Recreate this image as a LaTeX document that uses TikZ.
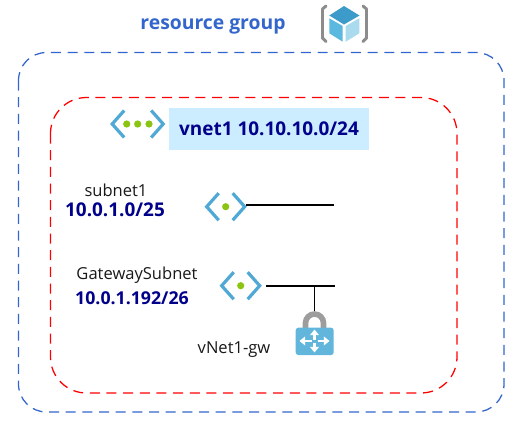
\documentclass[tikz,border=0pt]{standalone}
\usepackage{fontspec}
\setmainfont{Open Sans}
\usetikzlibrary{arrows.meta}
\definecolor{rgblue}{HTML}{3366CC}
\definecolor{navytext}{HTML}{00008B}
\definecolor{iconblue}{HTML}{50A8D4}
\definecolor{icongreen}{HTML}{8CC414}
\definecolor{bannerblue}{HTML}{CCECFF}
\definecolor{cubetop}{HTML}{3C9BC9}
\definecolor{cubeleft}{HTML}{5BB8DE}
\definecolor{cuberight}{HTML}{A9DAEE}
\definecolor{bracketgray}{HTML}{8C8C8C}
\definecolor{lockblue}{HTML}{62B6DC}
\tikzset{
  x=0.75pt,y=-0.75pt,
  chevron/.style={draw=iconblue,line width=2.4pt,line join=miter,line cap=butt},
  dotmark/.style={circle,fill=icongreen,inner sep=0pt,minimum size=5.4pt},
  plainlabel/.style={inner sep=0pt,font=\fontsize{12.4pt}{14pt}\selectfont,text=black!90},
  boldlabel/.style={inner sep=0pt,font=\fontsize{14.2pt}{16pt}\selectfont\bfseries,text=navytext},
  wire/.style={draw=black,line width=0.8pt},
  zone/.style={dash pattern=on 7.5pt off 5pt,line width=0.95pt},
  bracket/.style={line width=2.2pt,draw=bracketgray,line join=round,line cap=round},
  lockarrow/.style={draw=white,line width=1.6pt,-{Triangle[length=4.2pt,width=6.5pt]}},
}
\newcommand{\netchevrons}[3]{%
  \draw[chevron] ({#1-#3+13},{#2-13.5}) -- ({#1-#3+1},#2) -- ({#1-#3+13},{#2+13.5});
  \draw[chevron] ({#1+#3-13},{#2-13.5}) -- ({#1+#3-1},#2) -- ({#1+#3-13},{#2+13.5});
}
\begin{document}
\begin{tikzpicture}
\useasboundingbox (0,0) rectangle (514,422);
\fill[white] (0,0) rectangle (514,422);
% zones
\draw[zone,draw=rgblue,rounded corners=21pt] (18.5,52.5) rectangle (504,412);
\draw[zone,draw=red,rounded corners=27pt] (50.5,97.5) rectangle (457,393);
% title
\node[inner sep=0pt,font=\fontsize{14.5pt}{16pt}\selectfont\bfseries,text=rgblue] (title) at (213,26.5) {resource group};
% cube icon
\draw[bracket] (326,6) -- (322.5,9) -- (322.5,38) -- (326,41.5);
\draw[bracket] (363,6) -- (366.5,9) -- (366.5,38) -- (363,41.5);
\fill[cubetop] (344,6) -- (359.5,15.5) -- (344,24.5) -- (329.3,15.5) -- cycle;
\fill[cubeleft] (329.3,18.3) -- (342.7,26) -- (342.7,41.7) -- (329.3,33.3) -- cycle;
\fill[cuberight] (345.7,26) -- (359.3,18.3) -- (359.3,33.3) -- (345.7,41.7) -- cycle;
% vnet banner
\node[fill=bannerblue,minimum width=150pt,minimum height=31.9pt,inner sep=0pt] (banner) at (269.3,128.8) {};
\node[boldlabel] (vnetlabel) at (269,128.5) {vnet1 10.10.10.0/24};
\netchevrons{137.7}{124}{26.5}
\node[dotmark] (vd1) at (126.7,124) {};
\node[dotmark] (vd2) at (137.7,124) {};
\node[dotmark] (vd3) at (149,124) {};
% subnet1
\node[plainlabel] (sub1) at (116,190) {subnet1};
\node[boldlabel] (sub1ip) at (115,210) {10.0.1.0/25};
\netchevrons{225.7}{206.7}{20}
\node[dotmark] (sub1dot) at (225.7,206.7) {};
\coordinate (sub1a) at (246,205);
\coordinate (sub1b) at (334,205);
\draw[wire] (sub1a) -- (sub1b);
% gateway subnet
\node[plainlabel] (gw) at (137,275) {GatewaySubnet};
\node[boldlabel,font=\fontsize{13.3pt}{15pt}\selectfont\bfseries] (gwip) at (132,298) {10.0.1.192/26};
\netchevrons{240.7}{285.7}{20}
\node[dotmark] (gwdot) at (240.7,285.7) {};
\coordinate (gwa) at (266,286);
\coordinate (gwb) at (335,286);
\coordinate (gwj) at (314.5,286);
\coordinate (locktop) at (314.5,313);
\draw[wire] (gwa) -- (gwb);
\draw[wire] (gwj) -- (locktop);
% lock
\draw[draw=bracketgray!85,line width=4.2pt] (305.5,332) -- (305.5,323) arc[start angle=180,end angle=360,radius=9] -- (323.5,332);
\fill[lockblue,rounded corners=2pt] (295.7,327.7) rectangle (333.7,355);
\coordinate (lc) at (314.5,341);
\draw[lockarrow] (lc) ++(-3,0) -- ++(-12,0);
\draw[lockarrow] (lc) ++(3,0) -- ++(12,0);
\draw[lockarrow] (lc) ++(0,-1.5) -- ++(0,-10);
\draw[lockarrow] (lc) ++(0,1.5) -- ++(0,10);
\node[plainlabel] (gwname) at (234,350) {vNet1-gw};
\end{tikzpicture}
\end{document}
